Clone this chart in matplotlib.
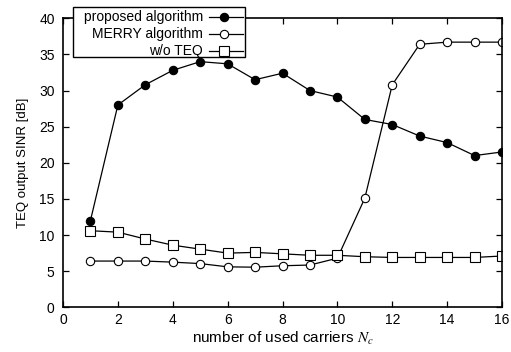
import numpy as np
import matplotlib
matplotlib.use("Agg")
import matplotlib.pyplot as plt
from matplotlib.lines import Line2D
from matplotlib.patches import Rectangle

plt.rcParams['font.family'] = ['Liberation Sans', 'DejaVu Sans']
plt.rcParams['mathtext.fontset'] = 'stix'

carriers = np.arange(1, 17)
sinr_proposed = [12.0, 28.0, 30.8, 32.8, 34.0, 33.7, 31.5, 32.4,
                 30.0, 29.1, 26.0, 25.3, 23.7, 22.8, 21.0, 21.5]
sinr_merry = [6.4, 6.4, 6.4, 6.25, 6.05, 5.6, 5.55, 5.75,
              5.85, 6.8, 15.1, 30.8, 36.4, 36.7, 36.7, 36.7]
sinr_no_teq = [10.6, 10.4, 9.45, 8.6, 8.05, 7.5, 7.6, 7.4,
               7.2, 7.2, 7.0, 6.9, 6.9, 6.9, 6.9, 7.1]
labels = ["proposed algorithm", "MERRY algorithm", "w/o TEQ"]

W, H = 511, 352
fig = plt.figure(figsize=(W / 100, H / 100), dpi=100)
ax = fig.add_axes([63 / W, (H - 307.3) / H, (502 - 63) / W, (307.3 - 18.3) / H])

styles = [
    dict(marker='o', markerfacecolor='black', markersize=6),
    dict(marker='o', markerfacecolor='white', markersize=6),
    dict(marker='s', markerfacecolor='white', markersize=6.5),
]
series = [sinr_proposed, sinr_merry, sinr_no_teq]
for vals, st in zip(series, styles):
    ax.plot(carriers, vals, color='black', lw=0.9, markeredgecolor='black',
            markeredgewidth=0.8, **st)

ax.set_xlim(0, 16)
ax.set_ylim(0, 40)
ax.set_xticks(np.arange(0, 17, 2))
ax.set_yticks(np.arange(0, 41, 5))
ax.tick_params(direction='in', length=4, width=0.9, top=True, right=True,
               labelsize=10)
ax.tick_params(axis='x', pad=4)
ax.tick_params(axis='y', pad=6)
for sp in ax.spines.values():
    sp.set_linewidth(1.2)

ax.set_xlabel("number of used carriers $N_c$", fontsize=11, labelpad=2)
ax.set_ylabel("TEQ output SINR [dB]", fontsize=9.5, labelpad=7)

# key box in the top left corner, text right aligned with sample to the right
def px(x, y):
    return x / W, 1 - y / H

x0, y0 = px(73, 7)
x1, y1 = px(245, 57)
fig.add_artist(Rectangle((x0, y1), x1 - x0, y0 - y1, transform=fig.transFigure,
                         facecolor='white', edgecolor='black', lw=1.0, zorder=5))
for i, (lab, st) in enumerate(zip(labels, styles)):
    yc = 16.5 + i * 17.2
    tx, ty = px(203, yc)
    fig.text(tx, ty, lab, ha='right', va='center', fontsize=10, zorder=6)
    la, lb = px(209, yc)
    lc, _ = px(243, yc)
    fig.add_artist(Line2D([la, lc], [lb, lb], transform=fig.transFigure,
                          color='black', lw=0.9, zorder=6))
    mx, _ = px(224, yc)
    fig.add_artist(Line2D([mx], [lb], transform=fig.transFigure, color='black',
                          markeredgecolor='black', markeredgewidth=0.8,
                          linestyle='none', zorder=7, **st))

fig.savefig("out.png", dpi=100)
